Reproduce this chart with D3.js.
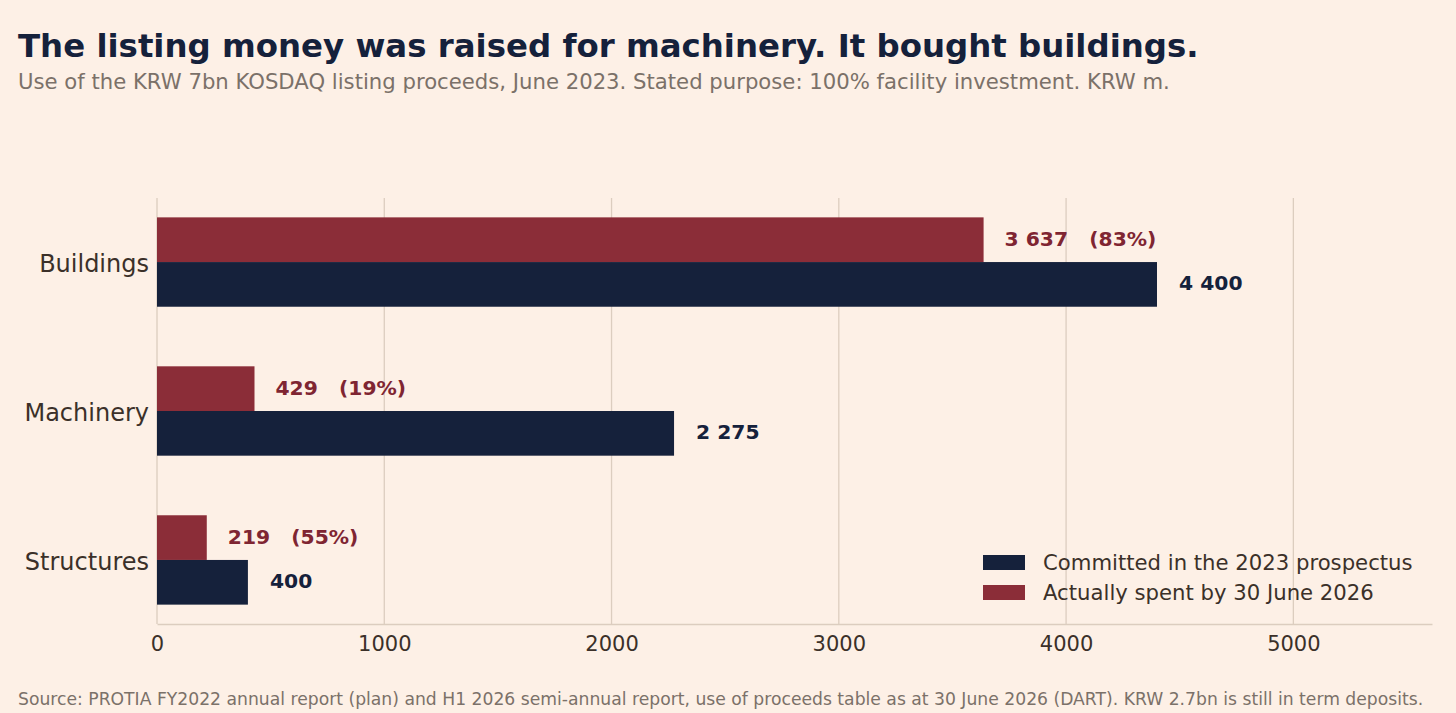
<!DOCTYPE html>
<html lang="en">
<head>
<meta charset="UTF-8">
<title>Listing proceeds use</title>
<script src="https://d3js.org/d3.v7.min.js"></script>
<style>
  body { margin: 0; background: #fdf0e6; font-family: "DejaVu Sans", sans-serif; }
  svg text { font-family: "DejaVu Sans", sans-serif; }
</style>
</head>
<body>
<div id="chart"></div>
<script>
const categories = ["Buildings", "Machinery", "Structures"];
const committed = [4400, 2275, 400];
const spent = [3637, 429, 219];
const spentPct = ["83%", "19%", "55%"];
const xTicks = [0, 1000, 2000, 3000, 4000, 5000];
const seriesNames = ["Committed in the 2023 prospectus", "Actually spent by 30 June 2026"];

const W = 1456, H = 713;
const navy = "#15213b", red = "#8b2d38", ink = "#3b3029", grey = "#7b7169", grid = "#dccdbf";

const svg = d3.select("#chart").append("svg")
  .attr("width", W).attr("height", H)
  .style("background", "#fdf0e6");

const plot = {left: 157, right: 1432, top: 198, bottom: 624};

const x = d3.scaleLinear().domain([0, 5610]).range([plot.left, plot.right]);
// category index -> vertical centre
const y = d3.scaleLinear().domain([-0.43, 2.43]).range([plot.top, plot.bottom]);
const bh = y(0.3) - y(0);

// grid
svg.append("g").selectAll("line")
  .data(xTicks)
  .enter().append("line")
  .attr("x1", d => x(d)).attr("x2", d => x(d))
  .attr("y1", plot.top).attr("y2", plot.bottom)
  .attr("stroke", grid).attr("stroke-width", 1.3);

// x axis
const xAxis = d3.axisBottom(x).tickValues(xTicks).tickSize(0).tickPadding(12)
  .tickFormat(d3.format("d"));
const gx = svg.append("g").attr("transform", "translate(0," + plot.bottom + ")").call(xAxis);
gx.select(".domain").attr("stroke", grid).attr("stroke-width", 1.3);
gx.selectAll("text").attr("fill", ink).style("font-size", "21px");

// bars
const rows = categories.map((c, i) => ({c, i, committed: committed[i], spent: spent[i], pct: spentPct[i]}));

svg.append("g").selectAll("rect")
  .data(rows).enter().append("rect")
  .attr("x", x(0)).attr("y", d => y(d.i) - bh)
  .attr("width", d => x(d.spent) - x(0)).attr("height", bh)
  .attr("fill", red);

svg.append("g").selectAll("rect")
  .data(rows).enter().append("rect")
  .attr("x", x(0)).attr("y", d => y(d.i))
  .attr("width", d => x(d.committed) - x(0)).attr("height", bh)
  .attr("fill", navy);

const fmt = v => d3.format(",")(v).replace(/,/g, " ");

// value labels
svg.append("g").selectAll("text")
  .data(rows).enter().append("text")
  .attr("x", d => x(d.spent) + 21).attr("y", d => y(d.i) - bh / 2 - 1)
  .attr("dy", "0.35em")
  .attr("fill", "#7f2532").style("font-size", "20.3px").style("font-weight", "bold")
  .style("white-space", "pre").attr("xml:space", "preserve")
  .text(d => fmt(d.spent) + "   (" + d.pct + ")");

svg.append("g").selectAll("text")
  .data(rows).enter().append("text")
  .attr("x", d => x(d.committed) + 22).attr("y", d => y(d.i) + bh / 2 - 1)
  .attr("dy", "0.35em")
  .attr("fill", navy).style("font-size", "20.3px").style("font-weight", "bold")
  .text(d => fmt(d.committed));

// category labels
svg.append("g").selectAll("text")
  .data(rows).enter().append("text")
  .attr("x", plot.left - 8).attr("y", d => y(d.i) + 1.5)
  .attr("dy", "0.35em").attr("text-anchor", "end")
  .attr("fill", ink).style("font-size", "24px")
  .text(d => d.c);

// legend
const legend = svg.append("g").attr("transform", "translate(983,555)");
[navy, red].forEach((col, i) => {
  legend.append("rect").attr("x", 0).attr("y", i * 30).attr("width", 42).attr("height", 15).attr("fill", col);
  legend.append("text").attr("x", 60).attr("y", i * 30 + 7.5).attr("dy", "0.35em")
    .attr("fill", ink).style("font-size", "21.2px").text(seriesNames[i]);
});

// titles
svg.append("text").attr("x", 18).attr("y", 57)
  .attr("fill", navy).style("font-size", "32.4px").style("font-weight", "bold")
  .text("The listing money was raised for machinery. It bought buildings.");

svg.append("text").attr("x", 18).attr("y", 89)
  .attr("fill", grey).style("font-size", "21.2px")
  .text("Use of the KRW 7bn KOSDAQ listing proceeds, June 2023. Stated purpose: 100% facility investment. KRW m.");

svg.append("text").attr("x", 18).attr("y", 705)
  .attr("fill", grey).style("font-size", "17.2px")
  .text("Source: PROTIA FY2022 annual report (plan) and H1 2026 semi-annual report, use of proceeds table as at 30 June 2026 (DART). KRW 2.7bn is still in term deposits.");
</script>
</body>
</html>
